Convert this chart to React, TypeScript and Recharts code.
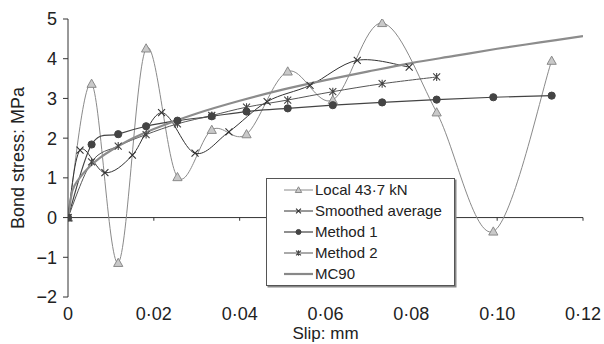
import React from 'react';
import { LineChart, Line, XAxis, YAxis, ReferenceLine, Label } from 'recharts';

// ---- data ----
const localX = [0, 0.0055, 0.0117, 0.0182, 0.0255, 0.0335, 0.0416, 0.0512, 0.0617, 0.0732, 0.0859, 0.0991, 0.1127];
const localY = [0, 3.37, -1.14, 4.26, 1.02, 2.21, 2.1, 3.68, 2.96, 4.9, 2.65, -0.35, 3.95];

const smoothX = [0, 0.0028, 0.0086, 0.015, 0.0218, 0.0296, 0.0375, 0.0464, 0.0564, 0.0674, 0.0795];
const smoothY = [0, 1.7, 1.13, 1.57, 2.64, 1.62, 2.16, 2.92, 3.33, 3.96, 3.79];

const method1X = [0, 0.0055, 0.0117, 0.0182, 0.0255, 0.0335, 0.0416, 0.0512, 0.0617, 0.0732, 0.0859, 0.0991, 0.1127];
const method1Y = [0, 1.84, 2.1, 2.3, 2.44, 2.55, 2.67, 2.75, 2.83, 2.9, 2.97, 3.03, 3.07];

const method2X = [0, 0.0055, 0.0117, 0.0182, 0.0255, 0.0335, 0.0416, 0.0512, 0.0617, 0.0732, 0.0859];
const method2Y = [0, 1.4, 1.8, 2.09, 2.36, 2.57, 2.78, 2.96, 3.17, 3.37, 3.54];

const mc90X = [0, 0.001, 0.0025, 0.005, 0.0075, 0.01, 0.015, 0.02, 0.03, 0.04, 0.05, 0.06, 0.07, 0.08, 0.09, 0.1, 0.11, 0.12];
const mc90Y = [0, 0.67, 0.97, 1.28, 1.51, 1.69, 1.99, 2.23, 2.62, 2.94, 3.22, 3.46, 3.68, 3.89, 4.07, 4.25, 4.41, 4.57];

const xTicks = [0, 0.02, 0.04, 0.06, 0.08, 0.1, 0.12];
const yTicks = [-2, -1, 0, 1, 2, 3, 4, 5];

const seriesNames = ['Local 43·7 kN', 'Smoothed average', 'Method 1', 'Method 2', 'MC90'];

const toRows = (xs: number[], ys: number[]) => xs.map((x, i) => ({ x, y: ys[i] }));
const localData = toRows(localX, localY);
const smoothData = toRows(smoothX, smoothY);
const m1Data = toRows(method1X, method1Y);
const m2Data = toRows(method2X, method2Y);
const mc90Data = toRows(mc90X, mc90Y);

const FONT = '"Liberation Sans", Arial, sans-serif';

// Excel-like smoothed line (Catmull-Rom via cubic Bezier)
function excelCurve(context: any) {
  let pts: [number, number][] = [];
  return {
    areaStart() {},
    areaEnd() {},
    lineStart() { pts = []; },
    point(x: number, y: number) { pts.push([+x, +y]); },
    lineEnd() {
      const n = pts.length;
      if (!n) return;
      context.moveTo(pts[0][0], pts[0][1]);
      for (let i = 0; i < n - 1; i++) {
        const p0 = pts[Math.max(0, i - 1)];
        const p1 = pts[i];
        const p2 = pts[i + 1];
        const p3 = pts[Math.min(n - 1, i + 2)];
        context.bezierCurveTo(
          p1[0] + (p2[0] - p0[0]) / 6, p1[1] + (p2[1] - p0[1]) / 6,
          p2[0] - (p3[0] - p1[0]) / 6, p2[1] - (p3[1] - p1[1]) / 6,
          p2[0], p2[1]
        );
      }
    },
  };
}

// ---- markers ----
const TriShape = ({ cx, cy, s = 1 }: any) => (
  <path d={`M${cx},${cy - 4.6 * s} L${cx + 4.6 * s},${cy + 3.6 * s} L${cx - 4.6 * s},${cy + 3.6 * s} Z`} fill="#c9c9c9" stroke="#8a8a8a" strokeWidth={1} />
);
const CrossShape = ({ cx, cy, s = 1, color = '#333' }: any) => (
  <path d={`M${cx - 3.5 * s},${cy - 3.5 * s} L${cx + 3.5 * s},${cy + 3.5 * s} M${cx - 3.5 * s},${cy + 3.5 * s} L${cx + 3.5 * s},${cy - 3.5 * s}`} stroke={color} strokeWidth={1.1} fill="none" />
);
const StarShape = ({ cx, cy, s = 1 }: any) => (
  <path d={`M${cx - 3.5 * s},${cy - 3.5 * s} L${cx + 3.5 * s},${cy + 3.5 * s} M${cx - 3.5 * s},${cy + 3.5 * s} L${cx + 3.5 * s},${cy - 3.5 * s} M${cx},${cy - 4 * s} L${cx},${cy + 4 * s}`} stroke="#444" strokeWidth={1.1} fill="none" />
);
const DotShape = ({ cx, cy, s = 1 }: any) => <circle cx={cx} cy={cy} r={3.6 * s} fill="#444" stroke="#444" />;

const mk = (Comp: any) => (p: any) => {
  if (p.cx == null || p.cy == null) return <g key={`e${p.index}`} />;
  return <g key={`m${p.index}`}><Comp cx={p.cx} cy={p.cy} /></g>;
};

const fmtX = (v: number) => (v === 0 ? '0' : v.toFixed(2).replace('.', '·'));
const fmtY = (v: number) => (v < 0 ? `\u2212${Math.abs(v)}` : String(v));

const legendItems = [
  { name: seriesNames[0], color: '#8a8a8a', w: 1, M: TriShape },
  { name: seriesNames[1], color: '#333', w: 1, M: CrossShape },
  { name: seriesNames[2], color: '#444', w: 1.2, M: DotShape },
  { name: seriesNames[3], color: '#555', w: 1, M: StarShape },
  { name: seriesNames[4], color: '#888', w: 2.2, M: null },
];

const LegendBox = () => (
  <div
    style={{
      position: 'absolute',
      left: 266,
      top: 178,
      width: 189,
      height: 108,
      border: '1px solid #555',
      boxShadow: '1.5px 1.5px 0 #888',
      background: '#fff',
      boxSizing: 'border-box',
      padding: '0 0 0 17px',
      fontFamily: FONT,
      fontSize: 15,
      color: '#222',
    }}
  >
    {legendItems.map((it) => (
      <div key={it.name} style={{ display: 'flex', alignItems: 'center', height: 21 }}>
        <svg width={30} height={12} style={{ marginRight: 1 }}>
          <line x1={0} y1={6} x2={29} y2={6} stroke={it.color} strokeWidth={it.w} />
          {it.M ? <it.M cx={14.5} cy={6} s={0.7} /> : null}
        </svg>
        <span style={{ whiteSpace: 'nowrap' }}>{it.name}</span>
      </div>
    ))}
  </div>
);

const YTitle = (props: any) => {
  const vb = props.viewBox || {};
  const x = 18;
  const y = (vb.y ?? 19) + (vb.height ?? 278) / 2;
  return (
    <text x={x} y={y} transform={`rotate(-90, ${x}, ${y})`} textAnchor="middle" dominantBaseline="central" fontFamily={FONT} fontSize={18} fill="#222">
      Bond stress: MPa
    </text>
  );
};

export default function App() {
  return (
    <div style={{ position: 'absolute', left: 0, top: 0, width: 604, height: 344, background: '#fff' }}>
      <LineChart width={604} height={344} margin={{ top: 19, right: 21, bottom: 0, left: 0 }}>
        <XAxis
          type="number"
          dataKey="x"
          domain={[0, 0.12]}
          ticks={xTicks}
          interval={0}
          tickFormatter={fmtX}
          axisLine={false}
          tickLine={false}
          tickSize={6}
          tickMargin={4}
          height={47}
          allowDataOverflow
          tick={{ fontFamily: FONT, fontSize: 18, fill: '#222' }}
        >
          <Label value="Slip: mm" position="insideBottom" offset={5} style={{ fontFamily: FONT, fontSize: 17, fill: '#222' }} />
        </XAxis>
        <YAxis
          type="number"
          domain={[-2, 5]}
          ticks={yTicks}
          interval={0}
          tickFormatter={fmtY}
          width={68}
          tickSize={5}
          tickMargin={6}
          axisLine={{ stroke: '#333', strokeWidth: 1 }}
          tickLine={{ stroke: '#333', strokeWidth: 1 }}
          allowDataOverflow
          tick={{ fontFamily: FONT, fontSize: 18, fill: '#222' }}
        >
          <Label content={YTitle} />
        </YAxis>
        <ReferenceLine y={0} stroke="#333" strokeWidth={1} />
        {xTicks.slice(1).map((t) => (
          <ReferenceLine key={t} segment={[{ x: t, y: 0 }, { x: t, y: -0.08 }]} stroke="#333" strokeWidth={1} />
        ))}
        <Line data={localData} dataKey="y" name={seriesNames[0]} type={excelCurve as any} stroke="#8a8a8a" strokeWidth={1} dot={mk(TriShape)} activeDot={false} isAnimationActive={false} />
        <Line data={smoothData} dataKey="y" name={seriesNames[1]} type={excelCurve as any} stroke="#333" strokeWidth={1} dot={mk(CrossShape)} activeDot={false} isAnimationActive={false} />
        <Line data={m1Data} dataKey="y" name={seriesNames[2]} type={excelCurve as any} stroke="#444" strokeWidth={1.2} dot={mk(DotShape)} activeDot={false} isAnimationActive={false} />
        <Line data={m2Data} dataKey="y" name={seriesNames[3]} type={excelCurve as any} stroke="#555" strokeWidth={1} dot={mk(StarShape)} activeDot={false} isAnimationActive={false} />
        <Line data={mc90Data} dataKey="y" name={seriesNames[4]} type={excelCurve as any} stroke="#8c8c8c" strokeWidth={2.2} dot={false} activeDot={false} isAnimationActive={false} />
      </LineChart>
      <LegendBox />
    </div>
  );
}
